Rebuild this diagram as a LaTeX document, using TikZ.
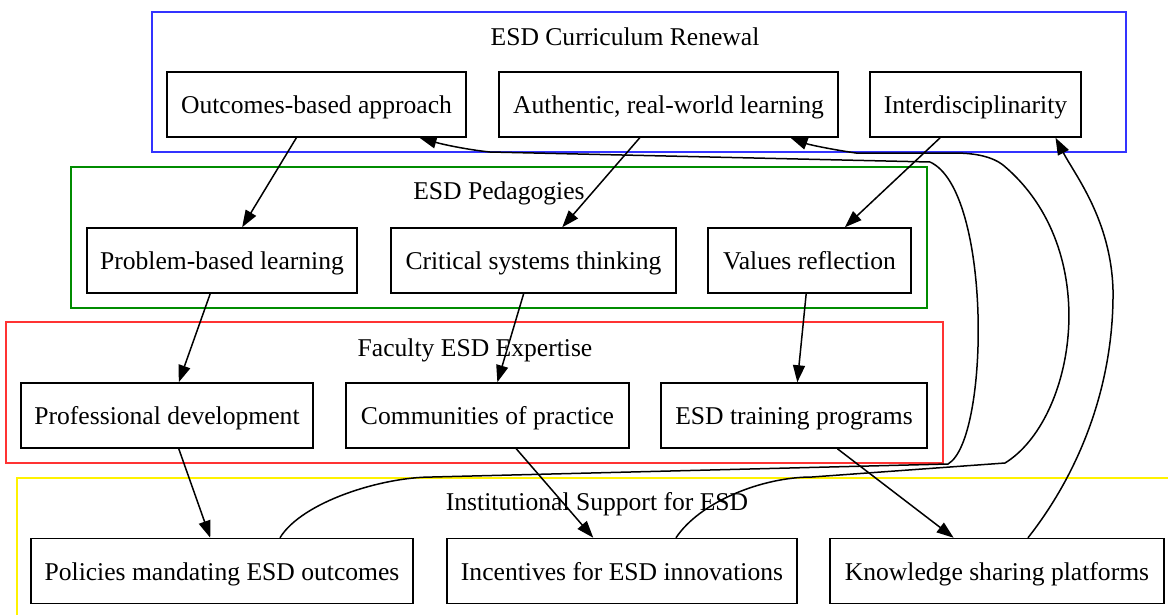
\documentclass[tikz,border=0pt]{standalone}
\usepackage{fontspec}
\setmainfont{Liberation Serif}
\usetikzlibrary{arrows.meta}
\begin{document}
\begin{tikzpicture}[x=1pt,y=-1pt,
  box/.style={draw=black,line width=1.5pt,rectangle,inner sep=0pt,minimum height=65pt,
    text height=20pt,text depth=2pt,font=\fontsize{25.6}{30}\selectfont},
  clusterframe/.style={line width=1.3pt},
  clustertitle/.style={font=\fontsize{25.6}{30}\selectfont,inner sep=0pt,anchor=base},
  edge/.style={line width=1.5pt,-{Triangle[length=17pt,width=12pt]}}]
\useasboundingbox[fill=white] (0,0) rectangle (1168,614);
\begin{scope}
\clip (0,0) rectangle (1168,614);
% cluster frames
\draw[clusterframe,draw=blue!80!white] (152,12) rectangle (1126,152);
\draw[clusterframe,draw=green!55!black] (71,167) rectangle (927,308);
\draw[clusterframe,draw=red!80!white] (6,322) rectangle (943,463);
\draw[clusterframe,draw=yellow] (17,478) rectangle (1180,630);
\end{scope}
\node[clustertitle] (t1) at (625,45) {ESD Curriculum Renewal};
\node[clustertitle] (t2) at (499,199) {ESD Pedagogies};
\node[clustertitle] (t3) at (475,356) {Faculty ESD Expertise};
\node[clustertitle] (t4) at (597,510) {Institutional Support for ESD};
% curriculum
\node[box,minimum width=299pt] (out) at (316.5,104.5) {Outcomes-based approach};
\node[box,minimum width=339pt] (auth) at (668.5,104.5) {Authentic, real-world learning};
\node[box,minimum width=211pt] (inter) at (975.5,104.5) {Interdisciplinarity};
% pedagogies
\node[box,minimum width=270pt] (pbl) at (222,260.5) {Problem-based learning};
\node[box,minimum width=285pt] (cst) at (533.5,260.5) {Critical systems thinking};
\node[box,minimum width=203pt] (val) at (809.5,260.5) {Values reflection};
% expertise
\node[box,minimum width=292pt] (prof) at (167,415.5) {Professional development};
\node[box,minimum width=283pt] (cop) at (487.5,415.5) {Communities of practice};
\node[box,minimum width=266pt] (train) at (794,415.5) {ESD training programs};
% support
\node[box,minimum width=382pt] (pol) at (222,571) {Policies mandating ESD outcomes};
\node[box,minimum width=350pt] (inc) at (622,571) {Incentives for ESD innovations};
\node[box,minimum width=334pt] (know) at (997,571) {Knowledge sharing platforms};
% straight links
\draw[edge] (out) -- (pbl);
\draw[edge] (auth) -- (cst);
\draw[edge] (inter) -- (val);
\draw[edge] (pbl) -- (prof);
\draw[edge] (cst) -- (cop);
\draw[edge] (val) -- (train);
\draw[edge] (prof) -- (pol);
\draw[edge] (cop) -- (inc);
\draw[edge] (train) -- (know);
% feedback links
\draw[edge] ([xshift=58pt]pol.north) .. controls +(22,-36) and +(-50,0) .. (432,477)
  -- (948,464) .. controls (990,440) and (992,190) .. (930,162)
  -- (490,152) .. controls (470,150) and (445,145) .. ([xshift=103pt]out.south);
\draw[edge] ([xshift=54pt]inc.north) .. controls +(24,-36) and +(-50,0) .. (812,477)
  -- (1005,463) .. controls (1075,420) and (1105,250) .. (1003,165)
  .. controls (990,155) and (970,153) .. (954,153)
  -- (856,153) .. controls (835,150) and (810,145) .. ([xshift=122pt]auth.south);
\draw[edge] ([xshift=31pt]know.north) .. controls +(55,-70) and (1114,380) .. (1113,290)
  .. controls (1111,220) and (1075,175) .. ([xshift=80pt]inter.south);
\end{tikzpicture}
\end{document}
